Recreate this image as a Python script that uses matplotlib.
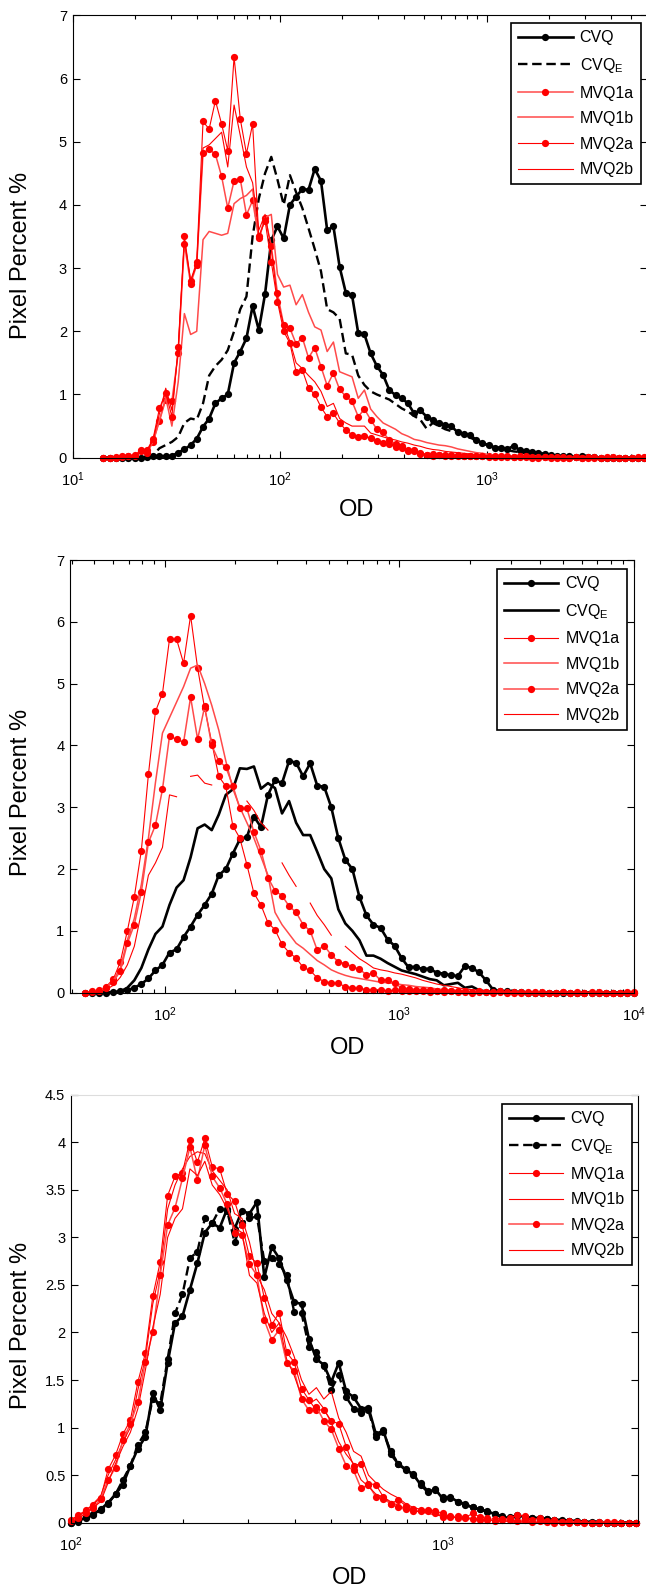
import numpy as np
import matplotlib
matplotlib.use("Agg")
import matplotlib.pyplot as plt
from matplotlib.ticker import FuncFormatter

plt.rcParams.update({
    'font.family': ['Liberation Sans', 'DejaVu Sans'],
    'mathtext.default': 'regular',
    'font.size': 10.5,
    'axes.linewidth': 0.8,
})

NA = np.nan

# ---------------- panel 1 ----------------
OD_1 = [14.1, 15.1, 16.2, 17.4, 18.6, 20.0, 21.4, 22.9, 24.5, 26.3,
        28.2, 30.2, 32.4, 34.7, 37.2, 39.8, 42.7, 45.7, 49.0, 52.5,
        56.2, 60.3, 64.6, 69.2, 74.1, 79.4, 85.1, 91.2, 97.7, 104.7,
        112.2, 120.2, 128.8, 138.0, 147.9, 158.5, 169.8, 182.0, 195.0, 208.9,
        223.9, 239.9, 257.0, 275.4, 295.1, 316.2, 338.8, 363.1, 389.0, 416.9,
        446.7, 478.6, 512.9, 549.5, 588.8, 631.0, 676.1, 724.4, 776.2, 831.8,
        891.3, 955.0, 1023, 1096, 1175, 1259, 1349, 1445, 1549, 1660,
        1778, 1905, 2042, 2188, 2344, 2512, 2692, 2884, 3090, 3311,
        3548, 3802, 4074, 4365, 4677, 5012, 5370, 5754]
CVQ_1 = [0, 0, 0, 0, 0, 0, 0, 0.01, 0.02, 0.03,
         0.02, 0.03, 0.08, 0.13, 0.2, 0.3, 0.49, 0.62, 0.86, 0.94,
         1.0, 1.5, 1.68, 1.89, 2.4, 2.02, 2.59, 3.44, 3.66, 3.47,
         4.0, 4.13, 4.25, 4.24, 4.57, 4.38, 3.6, 3.66, 3.02, 2.61,
         2.57, 1.97, 1.95, 1.65, 1.45, 1.31, 1.07, 0.99, 0.94, 0.86,
         0.7, 0.75, 0.65, 0.6, 0.55, 0.52, 0.5, 0.4, 0.38, 0.36,
         0.28, 0.23, 0.2, 0.16, 0.16, 0.13, 0.19, 0.12, 0.1, 0.09,
         0.08, 0.06, 0.04, 0.03, 0.02, 0.02, 0.01, 0.02, 0.01, 0.01,
         0, 0, 0, 0, 0, 0, 0, 0]
CVQE_1 = [0, 0, 0, 0, 0, 0, 0, 0, 0.04, 0.15,
          0.2, 0.25, 0.33, 0.55, 0.62, 0.6, 0.86, 1.3, 1.45, 1.55,
          1.7, 2.0, 2.35, 2.55, 3.5, 4.1, 4.5, 4.76, 4.4, 4.0,
          4.47, 4.2, 3.95, 3.63, 3.3, 2.95, 2.35, 2.3, 2.2, 1.65,
          1.63, 1.3, 1.15, 1.05, 1.0, 0.96, 0.92, 0.85, 0.78, 0.73,
          0.66, 0.6, 0.46, 0.55, 0.5, 0.45, 0.42, 0.4, 0.36, 0.32,
          0.27, 0.23, 0.19, 0.16, 0.14, 0.12, 0.1, 0.09, 0.07, 0.06,
          0.05, 0.04, 0.03, 0.02, 0.02, 0.01, 0.01, 0, 0, 0,
          0, 0, 0, 0, 0, 0, 0, 0]
M1A_1 = [0.0, 0.0, 0.0, 0.01, 0.02, 0.03, 0.12, 0.08, 0.25, 0.58,
         0.92, 0.9, 1.65, 3.38, 2.75, 3.05, 4.82, 4.88, 4.8, 4.45,
         3.95, 4.38, 4.41, 3.84, 4.07, 3.47, 3.8, 3.35, 2.6, 2.1,
         2.05, 1.8, 1.9, 1.58, 1.74, 1.44, 1.14, 1.34, 1.08, 0.97,
         0.89, 0.65, 0.77, 0.6, 0.45, 0.4, 0.28, 0.22, 0.18, 0.12,
         0.1, 0.08, 0.05, 0.06, 0.04, 0.05, 0.03, 0.04, 0.02, 0.03,
         0.02, 0.02, 0.03, 0.01, 0.02, 0.01, 0.01, 0.02, 0.01, 0.0,
         0.01, 0.01, 0.0, 0.01, 0.0, 0.0, 0.01, 0.0, 0.01, 0.0,
         0.0, 0.01, 0.0, 0.0, 0.0, 0.0, 0.0, 0.01]
M1B_1 = [0.0, 0.0, 0.0, 0.01, 0.02, 0.03, 0.08, 0.1, 0.25, 0.6,
         0.95, 0.5, 1.2, 2.28, 1.95, 2.0, 3.45, 3.58, 3.55, 3.52,
         3.55, 4.02, 4.1, 4.15, 4.25, 3.45, 3.8, 3.85, 2.9, 2.7,
         2.73, 2.42, 2.58, 2.3, 2.07, 2.02, 1.68, 1.83, 1.36, 1.32,
         1.28, 0.94, 1.07, 0.77, 0.65, 0.55, 0.5, 0.45, 0.38, 0.34,
         0.29, 0.27, 0.24, 0.22, 0.2, 0.19, 0.17, 0.14, 0.12, 0.1,
         0.08, 0.07, 0.05, 0.04, 0.03, 0.03, 0.02, 0.02, 0.01, 0.01,
         0.01, 0.0, 0.0, 0.0, 0.0, 0.0, 0.0, 0.0, 0.0, 0.0,
         0.0, 0.0, 0.0, 0.0, 0.0, 0.0, 0.0, 0.0]
M2A_1 = [0.0, 0.0, 0.01, 0.02, 0.02, 0.05, 0.1, 0.12, 0.3, 0.78,
         1.03, 0.65, 1.75, 3.5, 2.8, 3.1, 5.32, 5.2, 5.65, 5.28,
         4.86, 6.34, 5.36, 4.81, 5.28, 3.5, 3.75, 3.1, 2.47, 2.0,
         1.81, 1.36, 1.39, 1.1, 1.0, 0.8, 0.65, 0.7, 0.55, 0.44,
         0.36, 0.33, 0.34, 0.31, 0.26, 0.23, 0.21, 0.17, 0.15, 0.1,
         0.12, 0.06, 0.05, 0.03, 0.05, 0.03, 0.04, 0.02, 0.03, 0.02,
         0.03, 0.02, 0.01, 0.02, 0.01, 0.02, 0.01, 0.01, 0.02, 0.01,
         0.0, 0.01, 0.01, 0.0, 0.01, 0.0, 0.01, 0.0, 0.0, 0.01,
         0.0, 0.0, 0.01, 0.0, 0.0, 0.0, 0.01, 0.0]
M2B_1 = [0.0, 0.0, 0.01, 0.01, 0.02, 0.04, 0.1, 0.1, 0.28, 0.7,
         1.1, 0.75, 1.7, 3.45, 2.8, 3.05, 4.9, 4.95, 5.05, 5.15,
         4.6, 5.58, 5.1, 4.6, 4.35, 3.6, 3.85, 3.3, 2.5, 2.1,
         1.84, 1.5, 1.41, 1.3, 1.2, 1.05, 0.81, 0.86, 0.62, 0.55,
         0.5, 0.5, 0.5, 0.39, 0.36, 0.33, 0.3, 0.28, 0.25, 0.23,
         0.2, 0.18, 0.15, 0.13, 0.12, 0.1, 0.09, 0.08, 0.07, 0.06,
         0.05, 0.04, 0.03, 0.03, 0.02, 0.02, 0.02, 0.01, 0.01, 0.01,
         0.01, 0.01, 0.0, 0.0, 0.0, 0.0, 0.0, 0.0, 0.0, 0.0,
         0.0, 0.0, 0.0, 0.0, 0.0, 0.0, 0.0, 0.0]

# ---------------- panel 2 ----------------
OD_2 = [45.7, 49.0, 52.5, 56.2, 60.3, 64.6, 69.2, 74.1, 79.4, 85.1,
        91.2, 97.7, 104.7, 112.2, 120.2, 128.8, 138.0, 147.9, 158.5, 169.8,
        182.0, 195.0, 208.9, 223.9, 239.9, 257.0, 275.4, 295.1, 316.2, 338.8,
        363.1, 389.0, 416.9, 446.7, 478.6, 512.9, 549.5, 588.8, 631.0, 676.1,
        724.4, 776.2, 831.8, 891.3, 955.0, 1023, 1096, 1175, 1259, 1349,
        1445, 1549, 1660, 1778, 1905, 2042, 2188, 2344, 2512, 2692,
        2884, 3090, 3311, 3548, 3802, 4074, 4365, 4677, 5012, 5370,
        5754, 6166, 6607, 7079, 7586, 8128, 8710, 9333, 10000]
CVQ_2 = [0, 0, 0, 0, 0.01, 0.02, 0.04, 0.08, 0.14, 0.23,
         0.36, 0.45, 0.65, 0.7, 0.9, 1.07, 1.26, 1.42, 1.6, 1.9,
         2.0, 2.25, 2.48, 2.52, 2.85, 2.68, 3.2, 3.44, 3.39, 3.75,
         3.72, 3.5, 3.71, 3.35, 3.33, 3.0, 2.5, 2.15, 2.0, 1.55,
         1.25, 1.1, 1.05, 0.86, 0.76, 0.56, 0.41, 0.42, 0.38, 0.39,
         0.32, 0.31, 0.28, 0.27, 0.43, 0.4, 0.33, 0.2, 0.05, 0.02,
         0.02, 0.01, 0.01, 0, 0, 0, 0, 0, 0, 0,
         0, 0, 0, 0, 0, 0, 0, 0, 0]
CVQE_2 = [0, 0, 0, 0, 0, 0.02, 0.08, 0.2, 0.4, 0.7,
          0.95, 1.07, 1.42, 1.7, 1.82, 2.19, 2.66, 2.72, 2.63, 2.88,
          3.2, 3.29, 3.63, 3.62, 3.66, 3.3, 3.39, 3.31, 2.9, 3.1,
          2.75, 2.55, 2.55, 2.28, 2.0, 1.85, 1.35, 1.12, 1.0, 0.85,
          0.6, 0.6, 0.55, 0.48, 0.42, 0.36, 0.33, 0.3, 0.26, 0.22,
          0.2, 0.12, 0.14, 0.16, 0.08, 0.1, 0.04, 0.02, 0.01, 0,
          0, 0, 0, 0, 0, 0, 0, 0, 0, 0,
          0, 0, 0, 0, 0, 0, 0, 0, 0]
M1A_2 = [0.0, 0.02, 0.04, 0.1, 0.22, 0.5, 1.0, 1.55, 2.3, 3.53,
         4.55, 4.84, 5.72, 5.72, 5.33, 6.1, 5.25, 4.6, 4.05, 3.5,
         3.34, 2.7, 2.5, 2.07, 1.61, 1.42, 1.13, 1.02, 0.78, 0.65,
         0.56, 0.41, 0.36, 0.24, 0.18, 0.16, 0.15, 0.1, 0.08, 0.07,
         0.05, 0.04, 0.05, 0.03, 0.04, 0.03, 0.02, 0.03, 0.02, 0.01,
         0.02, 0.01, 0.02, 0.01, 0.01, 0.0, 0.01, 0.01, 0.0, 0.01,
         0.0, 0.01, 0.0, 0.0, 0.01, 0.0, 0.0, 0.0, 0.01, 0.0,
         0.0, 0.0, 0.01, 0.0, 0.0, 0.0, 0.0, 0.01, 0.0]
M1B_2 = [0.0, 0.01, 0.03, 0.08, 0.2, 0.4, 0.85, 1.2, 1.75, 2.5,
         3.4, 4.2, 4.45, 4.7, 4.95, 5.25, 5.3, 5.0, 4.65, 4.25,
         3.75, 3.3, 3.0, 2.75, 2.5, 2.2, 1.9, 1.3, 1.1, 0.95,
         0.8, 0.72, 0.62, 0.52, 0.45, 0.37, 0.32, 0.28, 0.25, 0.23,
         0.21, 0.19, 0.17, 0.16, 0.15, 0.13, 0.12, 0.1, 0.09, 0.08,
         0.06, 0.05, 0.04, 0.03, 0.02, 0.02, 0.01, 0.01, 0, 0,
         0, 0, 0, 0, 0, 0, 0, 0, 0, 0,
         0, 0, 0, 0, 0, 0, 0, 0, 0]
M2A_2 = [0.0, 0.01, 0.03, 0.08, 0.18, 0.35, 0.8, 1.1, 1.63, 2.43,
         2.71, 3.29, 4.15, 4.1, 4.05, 4.78, 4.1, 4.63, 4.0, 3.75,
         3.65, 3.35, 2.98, 2.98, 2.6, 2.3, 1.86, 1.65, 1.57, 1.4,
         1.3, 1.1, 1.0, 0.69, 0.76, 0.61, 0.5, 0.47, 0.42, 0.38,
         0.29, 0.32, 0.2, 0.21, 0.15, 0.08, 0.06, 0.05, 0.04, 0.05,
         0.03, 0.04, 0.02, 0.03, 0.02, 0.01, 0.02, 0.01, 0.01, 0.02,
         0.01, 0.0, 0.01, 0.01, 0.0, 0.01, 0.0, 0.0, 0.01, 0.0,
         0.01, 0.0, 0.0, 0.01, 0.0, 0.0, 0.0, 0.0, 0.01]
M2B_2 = [0.0, 0.0, 0.02, 0.05, 0.12, 0.25, 0.45, 0.75, 1.3, 1.9,
         2.1, 2.35, 3.2, 3.17, NA, 3.5, 3.52, 3.39, 3.36, NA,
         NA, NA, NA, 3.1, 2.95, 2.75, 2.63, NA, 2.1, 1.9,
         1.72, NA, 1.45, 1.25, 1.1, 0.93, NA, 0.75, 0.65, 0.55,
         0.48, 0.4, 0.37, 0.35, 0.32, 0.3, 0.27, 0.24, 0.2, 0.17,
         0.14, 0.12, 0.1, 0.08, 0.06, 0.05, 0.04, 0.03, 0.02, 0.02,
         0.01, 0.01, 0.0, 0.0, 0.0, 0.0, 0.0, 0.0, 0.0, 0.0,
         0.0, 0.0, 0.0, 0.0, 0.0, 0.0, 0.0, 0.0, 0.0]

# ---------------- panel 3 ----------------
OD_3 = [100.0, 104.7, 109.6, 114.8, 120.2, 125.9, 131.8, 138.0, 144.5, 151.4,
        158.5, 166.0, 173.8, 182.0, 190.5, 199.5, 208.9, 218.8, 229.1, 239.9,
        251.2, 263.0, 275.4, 288.4, 302.0, 316.2, 331.1, 346.7, 363.1, 380.2,
        398.1, 416.9, 436.5, 457.1, 478.6, 501.2, 524.8, 549.5, 575.4, 602.6,
        631.0, 660.7, 691.8, 724.4, 758.6, 794.3, 831.8, 871.0, 912.0, 955.0,
        1000, 1047, 1096, 1148, 1202, 1259, 1318, 1380, 1445, 1514,
        1585, 1660, 1738, 1820, 1905, 1995, 2089, 2188, 2291, 2399,
        2512, 2630, 2754, 2884, 3020, 3162, 3311]
CVQ_3 = [0.0, 0.01, 0.06, 0.09, 0.14, 0.21, 0.3, 0.4, 0.6, 0.78,
         0.9, 1.36, 1.19, 1.68, 2.1, 2.17, 2.45, 2.73, 3.05, 3.15,
         3.1, 3.3, 3.09, 3.28, 3.25, 3.37, 2.58, 2.9, 2.78, 2.55,
         2.32, 2.3, 1.93, 1.72, 1.66, 1.48, 1.68, 1.38, 1.32, 1.2,
         1.21, 0.93, 0.97, 0.72, 0.62, 0.56, 0.51, 0.4, 0.32, 0.35,
         0.25, 0.27, 0.22, 0.19, 0.16, 0.14, 0.12, 0.09, 0.06, 0.05,
         0.08, 0.06, 0.05, 0.05, 0.04, 0.03, 0.03, 0.02, 0.02, 0.01,
         0.01, 0.01, 0.0, 0.0, 0.0, 0.0, 0.0]
CVQE_3 = [0.0, 0.02, 0.05, 0.08, 0.13, 0.2, 0.3, 0.45, 0.6, 0.82,
          0.95, 1.3, 1.25, 1.72, 2.2, 2.4, 2.78, 2.85, 3.2, 3.15,
          3.3, 3.28, 2.95, 3.15, 3.2, 3.22, 2.75, 2.78, 2.72, 2.6,
          2.22, 2.2, 1.85, 1.8, 1.65, 1.4, 1.55, 1.32, 1.2, 1.15,
          1.18, 0.9, 0.95, 0.75, 0.62, 0.55, 0.5, 0.42, 0.33, 0.34,
          0.27, 0.26, 0.22, 0.2, 0.16, 0.14, 0.11, 0.09, 0.07, 0.06,
          0.07, 0.06, 0.05, 0.04, 0.04, 0.03, 0.02, 0.02, 0.01, 0.01,
          0.0, 0.0, 0.0, 0.0, 0.0, 0.0, 0.0]
M1A_3 = [0.03, 0.08, 0.13, 0.19, 0.26, 0.56, 0.71, 0.93, 1.08, 1.48,
         1.78, 2.38, 2.74, 3.44, 3.64, 3.68, 4.02, 3.79, 4.04, 3.74,
         3.72, 3.46, 3.38, 3.13, 2.8, 2.73, 2.36, 2.08, 2.21, 1.79,
         1.69, 1.41, 1.29, 1.18, 1.19, 1.07, 1.04, 0.8, 0.6, 0.62,
         0.41, 0.4, 0.27, 0.2, 0.24, 0.18, 0.14, 0.12, 0.13, 0.12,
         0.1, 0.06, 0.07, 0.05, 0.1, 0.06, 0.03, 0.04, 0.03, 0.05,
         0.08, 0.07, 0.03, 0.05, 0.02, 0.03, 0.01, 0.02, 0.01, 0.01,
         0.0, 0.01, 0.0, 0.01, 0.0, 0.0, 0.0]
M1B_3 = [0.02, 0.07, 0.12, 0.2, 0.28, 0.5, 0.66, 0.85, 1.0, 1.4,
         1.72, 2.3, 2.65, 3.3, 3.55, 3.72, 3.85, 3.9, 3.88, 3.7,
         3.6, 3.5, 3.25, 3.2, 2.95, 2.6, 2.45, 2.2, 2.1, 1.95,
         1.75, 1.5, 1.35, 1.42, 1.3, 1.38, 1.1, 0.95, 0.75, 0.7,
         0.5, 0.42, 0.35, 0.3, 0.26, 0.2, 0.16, 0.14, 0.12, 0.1,
         0.08, 0.07, 0.06, 0.05, 0.04, 0.04, 0.03, 0.03, 0.02, 0.02,
         0.02, 0.01, 0.0, 0.0, 0.0, 0.0, 0.0, 0.0, 0.0, 0.0,
         0.0, 0.0, 0.0, 0.0, 0.0, 0.0, 0.0]
M2A_3 = [0.02, 0.05, 0.1, 0.15, 0.25, 0.45, 0.58, 0.87, 1.04, 1.27,
         1.69, 2.0, 2.6, 3.13, 3.31, 3.62, 3.95, 3.6, 3.97, 3.64,
         3.52, 3.35, 3.05, 3.02, 2.72, 2.6, 2.13, 1.92, 2.03, 1.68,
         1.6, 1.3, 1.18, 1.22, 1.07, 0.98, 0.78, 0.6, 0.55, 0.36,
         0.4, 0.27, 0.25, 0.2, 0.16, 0.14, 0.12, 0.13, 0.12, 0.1,
         0.06, 0.07, 0.05, 0.06, 0.04, 0.03, 0.05, 0.02, 0.04, 0.03,
         0.02, 0.03, 0.01, 0.02, 0.01, 0.0, 0.01, 0.0, 0.01, 0.0,
         0.0, 0.0, 0.01, 0.0, 0.0, 0.0, 0.0]
M2B_3 = [0.01, 0.04, 0.1, 0.16, 0.22, 0.42, 0.62, 0.8, 0.95, 1.2,
         1.6, 2.05, 2.4, 3.0, 3.2, 3.3, 3.72, 3.65, 3.8, 3.55,
         3.45, 3.3, 3.1, 3.05, 2.6, 2.52, 2.2, 2.0, 2.1, 1.72,
         1.55, 1.33, 1.25, 1.3, 1.2, 1.05, 0.85, 0.72, 0.62, 0.45,
         0.38, 0.3, 0.27, 0.22, 0.18, 0.15, 0.13, 0.11, 0.1, 0.08,
         0.07, 0.06, 0.05, 0.04, 0.04, 0.03, 0.03, 0.02, 0.02, 0.01,
         0.0, 0.0, 0.0, 0.0, 0.0, 0.0, 0.0, 0.0, 0.0, 0.0,
         0.0, 0.0, 0.0, 0.0, 0.0, 0.0, 0.0]

LABELS = ['CVQ', r'CVQ$_E$', 'MVQ1a', 'MVQ1b', 'MVQ2a', 'MVQ2b']
RED = '#ff0000'
PINK = '#ff4a4a'
MS = 5.2

W, H = 646.0, 1596.0
fig = plt.figure(figsize=(W / 100, H / 100), dpi=100)


def px_axes(left, right, top, bottom):
    return fig.add_axes([left / W, 1 - bottom / H, (right - left) / W, (bottom - top) / H])


def draw_panel(ax, od, series, cvqe_style, red_colors, xlim, ylim, yticks,
               leg_anchor, top_ticks=True):
    cvq, cvqe, m1a, m1b, m2a, m2b = series
    lines = []
    lines += ax.plot(od, cvq, '-', color='black', lw=1.9, marker='o', ms=MS,
                     mew=0, clip_on=False)
    lines += ax.plot(od, cvqe, color='black', clip_on=False, **cvqe_style)
    for vals, col, mk in zip([m1a, m1b, m2a, m2b], red_colors,
                             ['o', None, 'o', None]):
        lw = 1.1 if col == PINK else 0.8
        lines += ax.plot(od, vals, '-', color=col, lw=lw, marker=mk, ms=MS,
                         mfc=RED, mec=RED, mew=0, clip_on=False)
    ax.set_xscale('log')
    ax.set_xlim(*xlim)
    ax.set_ylim(*ylim)
    ax.set_yticks(yticks)
    ax.yaxis.set_major_formatter(FuncFormatter(lambda v, p: f'{v:g}'))
    ax.tick_params(which='both', direction='in', top=top_ticks, right=True,
                   width=0.8, labelsize=10.5)
    ax.tick_params(which='major', length=5)
    ax.tick_params(which='minor', length=3)
    ax.tick_params(axis='x', pad=9)
    ax.tick_params(axis='y', pad=4)
    leg = ax.legend(lines, LABELS, loc='upper right', bbox_to_anchor=leg_anchor,
                    borderaxespad=0, fancybox=False, edgecolor='black',
                    framealpha=1, fontsize=11.5, handlelength=3.4,
                    handletextpad=0.45, labelspacing=0.66, borderpad=0.45,
                    numpoints=1)
    leg.get_frame().set_linewidth(1.2)
    return ax


ax1 = px_axes(72.5, 647, 15.3, 457.7)
draw_panel(ax1, OD_1, [CVQ_1, CVQE_1, M1A_1, M1B_1, M2A_1, M2B_1],
           dict(ls=(0, (4, 2)), lw=1.7), [PINK, PINK, RED, RED],
           (10, 5950), (0, 7), range(0, 8), (0.9896, 0.982))

ax2 = px_axes(70, 633.7, 560, 992.7)
draw_panel(ax2, OD_2, [CVQ_2, CVQE_2, M1A_2, M1B_2, M2A_2, M2B_2],
           dict(ls='-', lw=1.9), [RED, PINK, PINK, RED],
           (39.4, 10000), (0, 7), range(0, 8), (0.9876, 0.979))

ax3 = px_axes(70.9, 638, 1094.7, 1522.7)
draw_panel(ax3, OD_3, [CVQ_3, CVQE_3, M1A_3, M1B_3, M2A_3, M2B_3],
           dict(ls=(0, (4, 2)), lw=1.7, marker='o', ms=MS, mew=0),
           [RED, RED, PINK, RED],
           (100, 3346), (0, 4.5), np.arange(0, 4.51, 0.5), (0.9889, 0.9776),
           top_ticks=False)
ax3.spines['top'].set_color('#dddddd')

for yc in (255, 792.5, 1325):
    fig.text(21 / W, 1 - yc / H, 'Pixel Percent %', rotation=90,
             ha='center', va='center', fontsize=17)
for xc, yc in ((357, 510), (348, 1048), (349.5, 1578)):
    fig.text(xc / W, 1 - yc / H, 'OD', ha='center', va='center', fontsize=17)

fig.savefig('out.png', dpi=100)
